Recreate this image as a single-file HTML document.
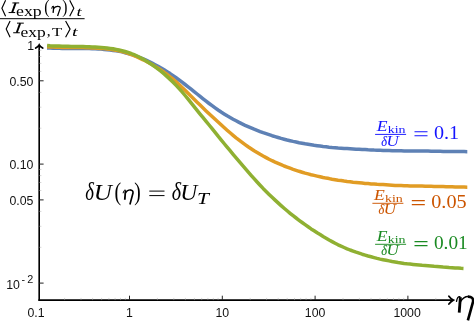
<!DOCTYPE html>
<html><head><meta charset="utf-8"><title>plot</title><style>html,body{margin:0;padding:0;background:#fff}</style></head><body>
<svg width="474" height="321" viewBox="0 0 474 321" style="display:block;will-change:transform">
<rect width="474" height="321" fill="#fff"/>
<g fill="none" stroke-width="3.5" stroke-linejoin="round" stroke-linecap="butt">
<path d="M47.1 47.9 L50.1 48.1 L53.1 48.2 L56.1 48.3 L59.1 48.3 L62.1 48.4 L65.1 48.4 L68.1 48.4 L71.1 48.4 L74.1 48.4 L77.1 48.4 L80.1 48.5 L83.1 48.5 L86.1 48.5 L89.1 48.6 L92.1 48.7 L95.1 48.8 L98.1 48.9 L101.1 49.1 L104.1 49.4 L107.1 49.7 L110.1 50.0 L113.1 50.4 L116.1 50.8 L119.1 51.3 L122.1 51.9 L125.1 52.7 L128.1 53.5 L131.1 54.4 L134.1 55.4 L137.1 56.5 L140.1 57.7 L143.1 58.9 L146.1 60.2 L149.1 61.6 L152.1 63.1 L155.1 64.7 L158.1 66.3 L161.1 68.0 L164.1 69.8 L167.1 71.7 L170.1 73.6 L173.1 75.7 L176.1 77.8 L179.1 80.0 L182.1 82.2 L185.1 84.5 L188.1 86.9 L191.1 89.2 L194.1 91.6 L197.1 94.0 L200.1 96.4 L203.1 98.8 L206.1 101.2 L209.1 103.5 L212.1 105.7 L215.1 107.9 L218.1 110.0 L221.1 112.0 L224.1 113.9 L227.1 115.8 L230.1 117.5 L233.1 119.2 L236.1 120.8 L239.1 122.4 L242.1 123.9 L245.1 125.3 L248.1 126.6 L251.1 127.9 L254.1 129.2 L257.1 130.4 L260.1 131.6 L263.1 132.7 L266.1 133.7 L269.1 134.7 L272.1 135.7 L275.1 136.6 L278.1 137.5 L281.1 138.4 L284.1 139.2 L287.1 140.0 L290.1 140.7 L293.1 141.4 L296.1 142.0 L299.1 142.7 L302.1 143.2 L305.1 143.8 L308.1 144.3 L311.1 144.8 L314.1 145.3 L317.1 145.7 L320.1 146.1 L323.1 146.5 L326.1 146.8 L329.1 147.2 L332.1 147.5 L335.1 147.7 L338.1 148.0 L341.1 148.2 L344.1 148.5 L347.1 148.6 L350.1 148.8 L353.1 149.0 L356.1 149.2 L359.1 149.3 L362.1 149.5 L365.1 149.6 L368.1 149.8 L371.1 149.9 L374.1 150.1 L377.1 150.2 L380.1 150.3 L383.1 150.4 L386.1 150.5 L389.1 150.6 L392.1 150.7 L395.1 150.8 L398.1 150.8 L401.1 150.8 L404.1 150.9 L407.1 150.9 L410.1 150.9 L413.1 150.9 L416.1 151.0 L419.1 151.0 L422.1 151.0 L425.1 151.1 L428.1 151.1 L431.1 151.2 L434.1 151.2 L437.1 151.3 L440.1 151.3 L443.1 151.4 L446.1 151.4 L449.1 151.4 L452.1 151.5 L455.1 151.5 L458.1 151.5 L461.1 151.6 L464.1 151.6 L467.1 151.7 L467.3 151.7" stroke="#5e81b5"/>
<path d="M47.1 46.8 L50.1 47.0 L53.1 47.1 L56.1 47.2 L59.1 47.3 L62.1 47.4 L65.1 47.4 L68.1 47.5 L71.1 47.5 L74.1 47.5 L77.1 47.5 L80.1 47.6 L83.1 47.6 L86.1 47.7 L89.1 47.8 L92.1 47.9 L95.1 48.0 L98.1 48.2 L101.1 48.4 L104.1 48.6 L107.1 48.9 L110.1 49.3 L113.1 49.7 L116.1 50.2 L119.1 50.8 L122.1 51.6 L125.1 52.4 L128.1 53.4 L131.1 54.5 L134.1 55.7 L137.1 57.0 L140.1 58.4 L143.1 59.8 L146.1 61.3 L149.1 62.9 L152.1 64.6 L155.1 66.4 L158.1 68.3 L161.1 70.3 L164.1 72.3 L167.1 74.5 L170.1 76.8 L173.1 79.2 L176.1 81.8 L179.1 84.5 L182.1 87.4 L185.1 90.3 L188.1 93.3 L191.1 96.3 L194.1 99.3 L197.1 102.2 L200.1 105.1 L203.1 108.0 L206.1 110.9 L209.1 113.7 L212.1 116.5 L215.1 119.3 L218.1 122.0 L221.1 124.8 L224.1 127.5 L227.1 130.2 L230.1 132.8 L233.1 135.3 L236.1 137.8 L239.1 140.1 L242.1 142.4 L245.1 144.6 L248.1 146.7 L251.1 148.7 L254.1 150.7 L257.1 152.5 L260.1 154.3 L263.1 156.0 L266.1 157.6 L269.1 159.2 L272.1 160.7 L275.1 162.1 L278.1 163.4 L281.1 164.7 L284.1 166.0 L287.1 167.1 L290.1 168.2 L293.1 169.3 L296.1 170.3 L299.1 171.3 L302.1 172.2 L305.1 173.1 L308.1 173.9 L311.1 174.7 L314.1 175.4 L317.1 176.1 L320.1 176.8 L323.1 177.5 L326.1 178.1 L329.1 178.6 L332.1 179.2 L335.1 179.7 L338.1 180.2 L341.1 180.6 L344.1 181.1 L347.1 181.5 L350.1 181.8 L353.1 182.2 L356.1 182.5 L359.1 182.8 L362.1 183.1 L365.1 183.4 L368.1 183.6 L371.1 183.9 L374.1 184.1 L377.1 184.3 L380.1 184.4 L383.1 184.6 L386.1 184.8 L389.1 185.0 L392.1 185.2 L395.1 185.4 L398.1 185.5 L401.1 185.6 L404.1 185.7 L407.1 185.8 L410.1 185.9 L413.1 185.9 L416.1 186.0 L419.1 186.1 L422.1 186.1 L425.1 186.2 L428.1 186.3 L431.1 186.3 L434.1 186.4 L437.1 186.5 L440.1 186.5 L443.1 186.6 L446.1 186.7 L449.1 186.7 L452.1 186.8 L455.1 186.9 L458.1 187.0 L461.1 187.0 L464.1 187.1 L467.1 187.3 L467.3 187.3" stroke="#e19c24"/>
<path d="M47.1 45.6 L50.1 45.8 L53.1 45.9 L56.1 46.0 L59.1 46.1 L62.1 46.2 L65.1 46.3 L68.1 46.3 L71.1 46.4 L74.1 46.4 L77.1 46.5 L80.1 46.5 L83.1 46.6 L86.1 46.7 L89.1 46.8 L92.1 46.9 L95.1 47.0 L98.1 47.2 L101.1 47.4 L104.1 47.7 L107.1 48.0 L110.1 48.4 L113.1 48.8 L116.1 49.4 L119.1 50.0 L122.1 50.7 L125.1 51.5 L128.1 52.4 L131.1 53.5 L134.1 54.7 L137.1 56.0 L140.1 57.5 L143.1 59.1 L146.1 60.9 L149.1 62.7 L152.1 64.7 L155.1 66.8 L158.1 69.1 L161.1 71.4 L164.1 73.9 L167.1 76.6 L170.1 79.4 L173.1 82.3 L176.1 85.4 L179.1 88.6 L182.1 91.9 L185.1 95.5 L188.1 99.2 L191.1 102.9 L194.1 106.7 L197.1 110.4 L200.1 114.1 L203.1 117.7 L206.1 121.4 L209.1 125.0 L212.1 128.7 L215.1 132.4 L218.1 136.2 L221.1 139.8 L224.1 143.5 L227.1 147.1 L230.1 150.7 L233.1 154.3 L236.1 157.8 L239.1 161.4 L242.1 164.9 L245.1 168.4 L248.1 171.9 L251.1 175.3 L254.1 178.7 L257.1 182.0 L260.1 185.2 L263.1 188.4 L266.1 191.4 L269.1 194.4 L272.1 197.3 L275.1 200.1 L278.1 202.9 L281.1 205.6 L284.1 208.2 L287.1 210.8 L290.1 213.3 L293.1 215.7 L296.1 218.0 L299.1 220.3 L302.1 222.5 L305.1 224.7 L308.1 226.8 L311.1 228.9 L314.1 230.8 L317.1 232.8 L320.1 234.6 L323.1 236.5 L326.1 238.2 L329.1 240.0 L332.1 241.6 L335.1 243.2 L338.1 244.8 L341.1 246.2 L344.1 247.5 L347.1 248.8 L350.1 250.0 L353.1 251.1 L356.1 252.2 L359.1 253.2 L362.1 254.2 L365.1 255.1 L368.1 256.0 L371.1 256.8 L374.1 257.6 L377.1 258.4 L380.1 259.1 L383.1 259.7 L386.1 260.3 L389.1 260.9 L392.1 261.5 L395.1 262.0 L398.1 262.5 L401.1 262.9 L404.1 263.4 L407.1 263.8 L410.1 264.1 L413.1 264.4 L416.1 264.7 L419.1 265.0 L422.1 265.3 L425.1 265.5 L428.1 265.7 L431.1 265.9 L434.1 266.2 L437.1 266.4 L440.1 266.7 L443.1 267.0 L446.1 267.2 L449.1 267.5 L452.1 267.7 L455.1 267.9 L458.1 268.1 L461.1 268.3 L463.5 268.4" stroke="#8fb032"/>
</g>
<g stroke="#000" stroke-width="1.65" fill="none">
<path d="M39.2 300.85 V45.4"/>
<path d="M38.45 300.1 H453"/>
</g>
<g stroke="#000" stroke-width="1.75" fill="none" stroke-linejoin="miter" stroke-linecap="round">
<path d="M35.7 48.0 Q38.2 46.7 39.2 44.9 Q40.2 46.7 42.7 48.0"/>
<path d="M448.9 296.20000000000005 Q451.0 299.0 453.3 300.1 Q451.0 301.20000000000005 448.9 304.0"/>
</g>
<g stroke="#222" stroke-width="1.0" fill="none">
<path d="M39.2 80.8 h4.4"/>
<path d="M39.2 164.1 h4.4"/>
<path d="M39.2 199.9 h4.4"/>
<path d="M39.2 283.1 h4.4"/>
<path d="M129.5 300.1 v-4.4"/>
<path d="M222.3 300.1 v-4.4"/>
<path d="M315.1 300.1 v-4.4"/>
<path d="M407.9 300.1 v-4.4"/>
</g>
<g stroke="#aaa" stroke-width="0.5" fill="none">
<path d="M64.6 300.1 v-2.2"/>
<path d="M81.0 300.1 v-2.2"/>
<path d="M92.6 300.1 v-2.2"/>
<path d="M101.6 300.1 v-2.2"/>
<path d="M108.9 300.1 v-2.2"/>
<path d="M115.1 300.1 v-2.2"/>
<path d="M120.5 300.1 v-2.2"/>
<path d="M125.3 300.1 v-2.2"/>
<path d="M157.4 300.1 v-2.2"/>
<path d="M173.8 300.1 v-2.2"/>
<path d="M185.4 300.1 v-2.2"/>
<path d="M194.4 300.1 v-2.2"/>
<path d="M201.7 300.1 v-2.2"/>
<path d="M207.9 300.1 v-2.2"/>
<path d="M213.3 300.1 v-2.2"/>
<path d="M218.1 300.1 v-2.2"/>
<path d="M250.2 300.1 v-2.2"/>
<path d="M266.6 300.1 v-2.2"/>
<path d="M278.2 300.1 v-2.2"/>
<path d="M287.2 300.1 v-2.2"/>
<path d="M294.5 300.1 v-2.2"/>
<path d="M300.7 300.1 v-2.2"/>
<path d="M306.1 300.1 v-2.2"/>
<path d="M310.9 300.1 v-2.2"/>
<path d="M343.0 300.1 v-2.2"/>
<path d="M359.4 300.1 v-2.2"/>
<path d="M371.0 300.1 v-2.2"/>
<path d="M380.0 300.1 v-2.2"/>
<path d="M387.3 300.1 v-2.2"/>
<path d="M393.5 300.1 v-2.2"/>
<path d="M398.9 300.1 v-2.2"/>
<path d="M403.7 300.1 v-2.2"/>
<path d="M435.8 300.1 v-2.2"/>
<path d="M39.2 247.3 h2.2"/>
<path d="M39.2 226.3 h2.2"/>
<path d="M39.2 211.4 h2.2"/>
<path d="M39.2 190.5 h2.2"/>
<path d="M39.2 182.5 h2.2"/>
<path d="M39.2 175.6 h2.2"/>
<path d="M39.2 169.5 h2.2"/>
<path d="M39.2 128.2 h2.2"/>
<path d="M39.2 107.2 h2.2"/>
<path d="M39.2 92.4 h2.2"/>
<path d="M39.2 71.4 h2.2"/>
<path d="M39.2 63.4 h2.2"/>
<path d="M39.2 56.5 h2.2"/>
<path d="M39.2 50.4 h2.2"/>
</g>
<text x="36" y="316.7" font-family="Liberation Sans, sans-serif" font-size="12.3" fill="#111" text-anchor="middle">0.1</text>
<text x="129.5" y="316.7" font-family="Liberation Sans, sans-serif" font-size="12.3" fill="#111" text-anchor="middle">1</text>
<text x="222.3" y="316.7" font-family="Liberation Sans, sans-serif" font-size="12.3" fill="#111" text-anchor="middle">10</text>
<text x="315.09999999999997" y="316.7" font-family="Liberation Sans, sans-serif" font-size="12.3" fill="#111" text-anchor="middle">100</text>
<text x="407.09999999999997" y="316.7" font-family="Liberation Sans, sans-serif" font-size="12.3" fill="#111" text-anchor="middle">1000</text>
<text x="34.2" y="49.8" font-family="Liberation Sans, sans-serif" font-size="12.3" fill="#111" text-anchor="end">1</text>
<text x="33.4" y="86.0" font-family="Liberation Sans, sans-serif" font-size="12.3" fill="#111" text-anchor="end">0.50</text>
<text x="33.4" y="169.3" font-family="Liberation Sans, sans-serif" font-size="12.3" fill="#111" text-anchor="end">0.10</text>
<text x="33.4" y="204.8" font-family="Liberation Sans, sans-serif" font-size="12.3" fill="#111" text-anchor="end">0.05</text>
<text x="6.2" y="288.8" font-family="Liberation Sans, sans-serif" font-size="12.3" fill="#111" text-anchor="start">10</text>
<text x="21.4" y="282.8" font-family="Liberation Sans, sans-serif" font-size="10.6" fill="#111" text-anchor="start">-</text>
<text x="27.2" y="282.7" font-family="Liberation Sans, sans-serif" font-size="10.8" fill="#111" text-anchor="start">2</text>
<g fill="none" stroke="#000" stroke-linecap="round" stroke-linejoin="round"><path d="M456.53 301.34 C457.03 298.34 458.04 296.50 459.87 296.67" stroke-width="1.36"/><path d="M460.38 297.17 L459.21 312.70" stroke-width="2.82" stroke-linecap="butt"/><path d="M460.38 301.68 C462.38 298.34 465.38 296.50 468.22 296.50" stroke-width="1.56"/><path d="M467.89 296.58 C471.73 296.50 473.48 298.34 473.07 301.68 L467.89 320.38" stroke-width="2.62" stroke-linecap="butt"/></g>
<text transform="translate(85.35 199.66) scale(0.767 1)" font-family="Liberation Serif, serif" font-size="24.42" font-style="italic" fill="#000" style="font-kerning:none">δ</text>
<text transform="translate(93.69 199.78) scale(1.091 1)" font-family="Liberation Serif, serif" font-size="23.02" font-style="italic" fill="#000" style="font-kerning:none">U</text>
<text transform="translate(114.53 199.64) scale(0.804 1)" font-family="Liberation Serif, serif" font-size="24.70" font-style="normal" fill="#000" style="font-kerning:none">(</text>
<g fill="none" stroke="#000" stroke-linecap="round" stroke-linejoin="round"><path d="M123.20 192.86 C123.49 191.03 124.09 189.91 125.18 190.01" stroke-width="0.98"/><path d="M125.47 190.31 L124.78 199.80" stroke-width="1.79" stroke-linecap="butt"/><path d="M125.47 193.07 C126.66 191.03 128.44 189.91 130.12 189.91" stroke-width="1.12"/><path d="M129.93 189.96 C132.20 189.91 133.24 191.03 132.99 193.07 L129.93 204.49" stroke-width="1.66" stroke-linecap="butt"/></g>
<text transform="translate(134.27 199.64) scale(0.788 1)" font-family="Liberation Serif, serif" font-size="24.70" font-style="normal" fill="#000" style="font-kerning:none">)</text>
<path d="M149.3 191.1 h15.2 M149.3 195.6 h15.2" stroke="#000" stroke-width="1"/>
<text transform="translate(171.81 199.66) scale(0.821 1)" font-family="Liberation Serif, serif" font-size="24.42" font-style="italic" fill="#000" style="font-kerning:none">δ</text>
<text transform="translate(180.34 199.78) scale(1.022 1)" font-family="Liberation Serif, serif" font-size="23.02" font-style="italic" fill="#000" style="font-kerning:none">U</text>
<text transform="translate(197.00 204.10) scale(1.338 1)" font-family="Liberation Serif, serif" font-size="16.04" font-style="italic" fill="#000" style="font-kerning:none">T</text>
<text transform="translate(376.81 130.90) scale(1.216 1)" font-family="Liberation Serif, serif" font-size="14.51" font-style="italic" fill="#1414ff" style="font-kerning:none">E</text>
<text transform="translate(387.63 133.20) scale(1.428 1)" font-family="Liberation Serif, serif" font-size="9.80" font-style="normal" fill="#1414ff" style="font-kerning:none">kin</text>
<path d="M375.1 134.4 H406.1" stroke="#1414ff" stroke-width="0.95"/>
<text transform="translate(381.13 145.56) scale(0.875 1)" font-family="Liberation Serif, serif" font-size="14.26" font-style="italic" fill="#1414ff" stroke="#1414ff" stroke-width="0.15" stroke-linejoin="round" style="font-kerning:none">δ</text>
<text transform="translate(386.54 145.57) scale(1.251 1)" font-family="Liberation Serif, serif" font-size="13.54" font-style="italic" fill="#1414ff" style="font-kerning:none">U</text>
<path d="M414.5 131.70000000000002 h13 M414.5 135.70000000000002 h13" stroke="#1414ff" stroke-width="1.1"/>
<text transform="translate(433.93 138.72) scale(1.036 1)" font-family="Liberation Serif, serif" font-size="19.43" font-style="normal" fill="#1414ff" style="font-kerning:none">0.1</text>
<text transform="translate(374.11 199.80) scale(1.216 1)" font-family="Liberation Serif, serif" font-size="14.51" font-style="italic" fill="#cc5500" style="font-kerning:none">E</text>
<text transform="translate(384.93 202.10) scale(1.428 1)" font-family="Liberation Serif, serif" font-size="9.80" font-style="normal" fill="#cc5500" style="font-kerning:none">kin</text>
<path d="M372.40000000000003 203.3 H403.40000000000003" stroke="#cc5500" stroke-width="0.95"/>
<text transform="translate(378.43 214.46) scale(0.875 1)" font-family="Liberation Serif, serif" font-size="14.26" font-style="italic" fill="#cc5500" stroke="#cc5500" stroke-width="0.15" stroke-linejoin="round" style="font-kerning:none">δ</text>
<text transform="translate(383.84 214.47) scale(1.251 1)" font-family="Liberation Serif, serif" font-size="13.54" font-style="italic" fill="#cc5500" style="font-kerning:none">U</text>
<path d="M411.8 200.60000000000002 h13 M411.8 204.60000000000002 h13" stroke="#cc5500" stroke-width="1.1"/>
<text transform="translate(431.23 207.62) scale(1.040 1)" font-family="Liberation Serif, serif" font-size="19.43" font-style="normal" fill="#cc5500" style="font-kerning:none">0.05</text>
<text transform="translate(376.81 240.80) scale(1.216 1)" font-family="Liberation Serif, serif" font-size="14.51" font-style="italic" fill="#1a8a22" style="font-kerning:none">E</text>
<text transform="translate(387.63 243.10) scale(1.428 1)" font-family="Liberation Serif, serif" font-size="9.80" font-style="normal" fill="#1a8a22" style="font-kerning:none">kin</text>
<path d="M375.1 244.3 H406.1" stroke="#1a8a22" stroke-width="0.95"/>
<text transform="translate(381.13 255.46) scale(0.875 1)" font-family="Liberation Serif, serif" font-size="14.26" font-style="italic" fill="#1a8a22" stroke="#1a8a22" stroke-width="0.15" stroke-linejoin="round" style="font-kerning:none">δ</text>
<text transform="translate(386.54 255.47) scale(1.251 1)" font-family="Liberation Serif, serif" font-size="13.54" font-style="italic" fill="#1a8a22" style="font-kerning:none">U</text>
<path d="M414.5 241.60000000000002 h13 M414.5 245.60000000000002 h13" stroke="#1a8a22" stroke-width="1.1"/>
<text transform="translate(433.96 248.62) scale(0.994 1)" font-family="Liberation Serif, serif" font-size="19.43" font-style="normal" fill="#1a8a22" style="font-kerning:none">0.01</text>
<path d="M5.6 0.3 L1.9 8.3 L5.6 16.3" stroke="#000" stroke-width="1.15" fill="none" stroke-linejoin="miter"/>
<path d="M8.6 12.55 H15.2 M12.399999999999999 2.95 H19.2" stroke="#000" stroke-width="1.0" fill="none"/><path d="M12.099999999999998 12.6 L15.6 2.9" stroke="#000" stroke-width="1.9" fill="none"/>
<text transform="translate(16.00 16.41) scale(1.309 1)" font-family="Liberation Serif, serif" font-size="13.59" font-style="normal" fill="#000" style="font-kerning:none">exp</text>
<text transform="translate(44.32 12.80) scale(0.872 1)" font-family="Liberation Serif, serif" font-size="17.87" font-style="normal" fill="#000" style="font-kerning:none">(</text>
<g fill="none" stroke="#000" stroke-linecap="round" stroke-linejoin="round"><path d="M51.77 8.28 C52.02 7.05 52.54 6.30 53.47 6.37" stroke-width="1.05"/><path d="M53.73 6.58 L53.13 12.90" stroke-width="1.33" stroke-linecap="butt"/><path d="M53.73 8.41 C54.75 7.05 56.28 6.30 57.72 6.30" stroke-width="1.21"/><path d="M57.55 6.34 C59.51 6.30 60.40 7.05 60.19 8.41 L57.55 16.03" stroke-width="1.24" stroke-linecap="butt"/></g>
<text transform="translate(62.30 12.80) scale(0.872 1)" font-family="Liberation Serif, serif" font-size="17.87" font-style="normal" fill="#000" style="font-kerning:none">)</text>
<path d="M69.7 0.3 L73.8 8.3 L69.7 16.3" stroke="#000" stroke-width="1.15" fill="none" stroke-linejoin="miter"/>
<text transform="translate(76.49 15.97) scale(1.414 1)" font-family="Liberation Serif, serif" font-size="13.09" font-style="italic" fill="#000" style="font-kerning:none">t</text>
<path d="M0 18.7 H84.6" stroke="#000" stroke-width="1"/>
<path d="M10.1 21 L6.2 29.1 L10.1 37.2" stroke="#000" stroke-width="1.15" fill="none" stroke-linejoin="miter"/>
<path d="M13.2 32.75 H19.799999999999997 M17.0 23.15 H23.8" stroke="#000" stroke-width="1.0" fill="none"/><path d="M16.7 32.800000000000004 L20.2 23.099999999999998" stroke="#000" stroke-width="1.9" fill="none"/>
<text transform="translate(20.62 36.61) scale(1.282 1)" font-family="Liberation Serif, serif" font-size="13.59" font-style="normal" fill="#000" style="font-kerning:none">exp</text>
<text transform="translate(46.71 35.96) scale(1.017 1)" font-family="Liberation Serif, serif" font-size="15.18" font-style="normal" fill="#000" style="font-kerning:none">,</text>
<text transform="translate(51.90 36.00) scale(1.417 1)" font-family="Liberation Serif, serif" font-size="11.76" font-style="normal" fill="#000" style="font-kerning:none">T</text>
<path d="M65.6 21 L70.1 29.1 L65.6 37.2" stroke="#000" stroke-width="1.15" fill="none" stroke-linejoin="miter"/>
<text transform="translate(72.02 36.17) scale(1.514 1)" font-family="Liberation Serif, serif" font-size="13.27" font-style="italic" fill="#000" style="font-kerning:none">t</text>
</svg>
</body></html>
